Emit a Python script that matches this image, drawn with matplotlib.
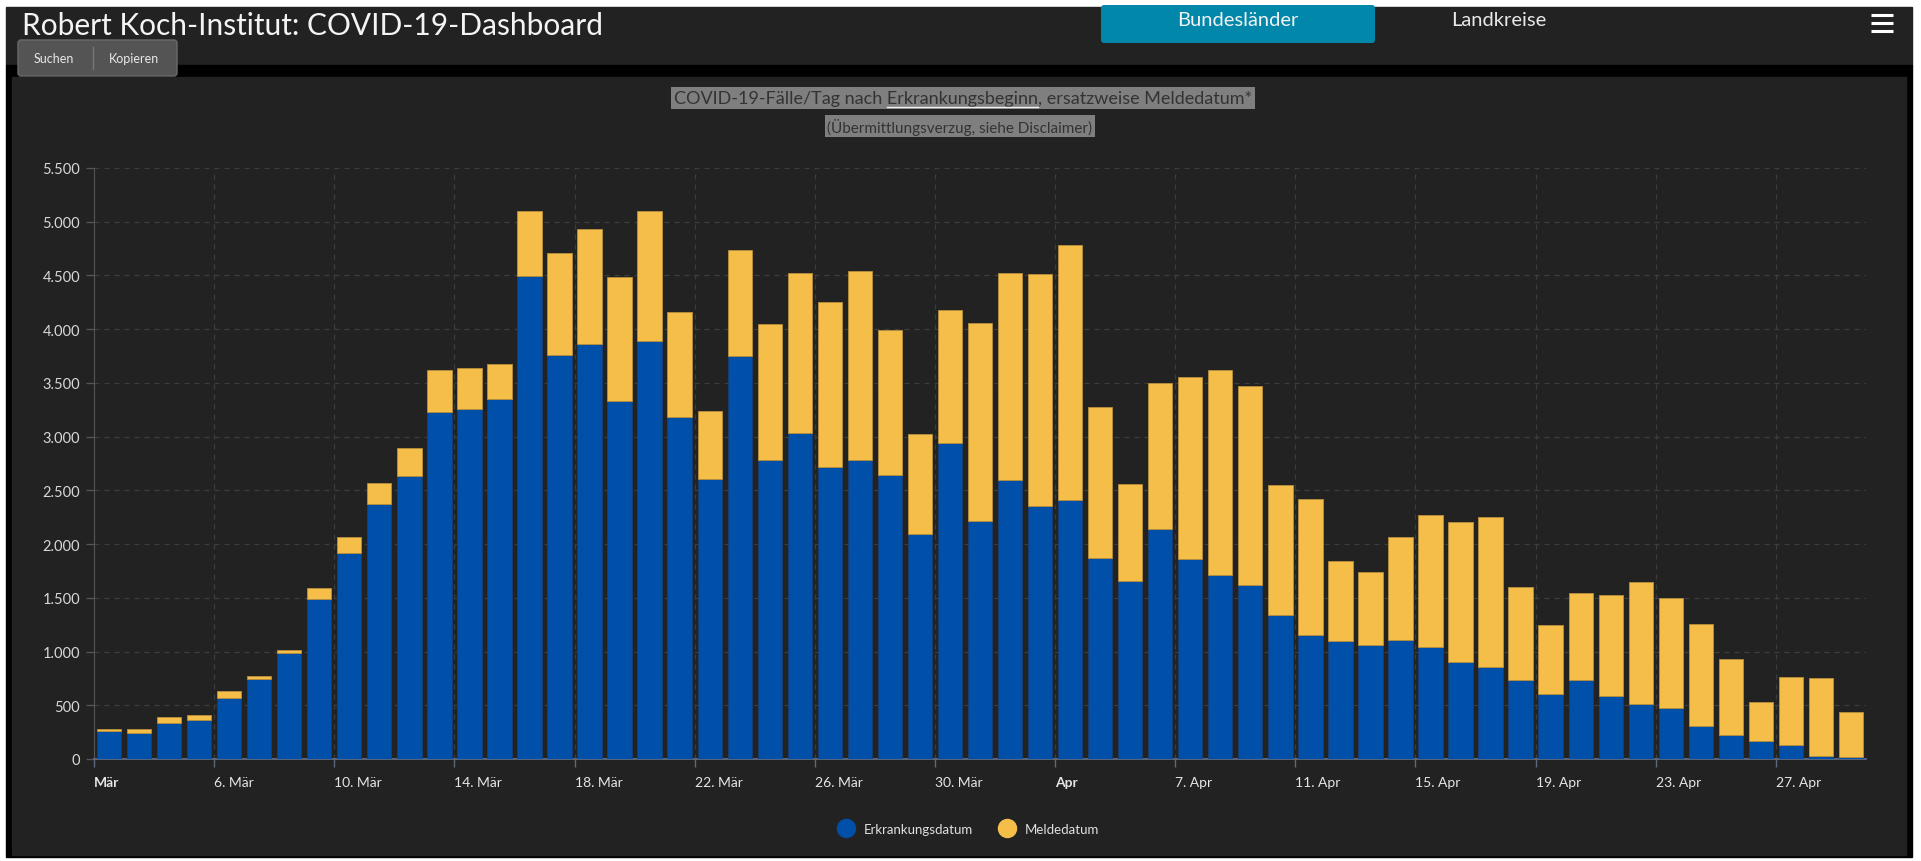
import matplotlib
matplotlib.use("Agg")
import matplotlib.pyplot as plt
import matplotlib.dates as mdates
from matplotlib.patches import Rectangle, FancyBboxPatch
from matplotlib.lines import Line2D
from matplotlib.ticker import FuncFormatter, MultipleLocator
import matplotlib.transforms as mtransforms
import pandas as pd

plt.rcParams['font.family'] = ['Lato', 'DejaVu Sans']

# Daily cases, 2 Mar - 29 Apr 2020
dates = pd.date_range('2020-03-02', '2020-04-29', freq='D')
erkrankung = [258, 244, 337, 361, 567, 743, 984, 1489, 1916, 2376,
              2631, 3229, 3253, 3346, 4498, 3759, 3862, 3332, 3889, 3185,
              2607, 3752, 2782, 3033, 2713, 2782, 2645, 2091, 2940, 2218,
              2596, 2356, 2411, 1874, 1656, 2136, 1860, 1709, 1616, 1338,
              1156, 1097, 1063, 1107, 1039, 901, 856, 739, 605, 739,
              588, 513, 475, 303, 224, 165, 134, 28, 14]
gesamt = [275, 275, 392, 406, 636, 770, 1015, 1589, 2063, 2569,
          2892, 3618, 3642, 3676, 5097, 4711, 4935, 4481, 5103, 4161,
          3240, 4739, 4044, 4519, 4254, 4540, 3989, 3023, 4175, 4058,
          4519, 4509, 4784, 3274, 2559, 3497, 3559, 3618, 3467, 2548,
          2421, 1843, 1740, 2063, 2270, 2204, 2249, 1603, 1245, 1544,
          1523, 1651, 1496, 1255, 935, 530, 763, 750, 437]
melde = [g - e for g, e in zip(gesamt, erkrankung)]

series_names = ['Erkrankungsdatum', 'Meldedatum']
blue = '#004fa8'
yellow = '#f5be48'
W, H = 1921, 862

fig = plt.figure(figsize=(W / 100, H / 100), dpi=100, facecolor='white')

# page furniture drawn in pixel coordinates
bg = fig.add_axes([0, 0, 1, 1], zorder=0)
bg.set_xlim(0, W)
bg.set_ylim(H, 0)
bg.axis('off')
bg.add_patch(Rectangle((6, 8), 1906, 58, color='#222222'))
bg.add_patch(Rectangle((6, 66), 1906, 792, color='#000000'))
bg.add_patch(Rectangle((12, 78), 1894, 778, color='#222222'))
bg.add_patch(FancyBboxPatch((18, 41), 159, 36, boxstyle='round,pad=0,rounding_size=3',
                            fc='#545454', ec='#6a6a6a', lw=1))
bg.plot([93, 93], [48, 70], color='#777777', lw=1)
bg.text(54, 59, 'Suchen', color='#e8e8e8', fontsize=9, ha='center', va='center')
bg.text(134, 59, 'Kopieren', color='#e8e8e8', fontsize=9, ha='center', va='center')
bg.add_patch(FancyBboxPatch((1101, 6), 274, 38, boxstyle='round,pad=0,rounding_size=3',
                            fc='#0087a9', ec='none'))
bg.text(1238, 20, 'Bundesländer', color='#f2f2f2', fontsize=14.5, ha='center', va='center')
bg.text(1499, 20, 'Landkreise', color='#e8e8e8', fontsize=14.5, ha='center', va='center')
for yy in (16, 24, 32):
    bg.plot([1871, 1893], [yy, yy], color='white', lw=2.2, solid_capstyle='butt')
bg.text(22, 26, 'Robert Koch-Institut: COVID-19-Dashboard', color='#f4f4f4',
        fontsize=21.5, ha='left', va='center')

t1 = bg.text(963, 99, 'COVID-19-Fälle/Tag nach Erkrankungsbeginn, ersatzweise Meldedatum*',
             color='#333333', fontsize=13, ha='center', va='center',
             bbox=dict(fc='#7f7f7f', ec='none', pad=2))
bg.text(960, 127, '(Übermittlungsverzug, siehe Disclaimer)', color='#333333',
        fontsize=11, ha='center', va='center', bbox=dict(fc='#7f7f7f', ec='none', pad=2))

# chart
ax = fig.add_axes([94 / W, 1 - 760 / H, (1866 - 94) / W, (760 - 169) / H], zorder=1)
ax.set_facecolor('none')
x = mdates.date2num(dates) + 0.5
ax.bar(x, erkrankung, width=0.81, color=blue, edgecolor='#163f78', linewidth=0.6,
       label=series_names[0], zorder=3)
ax.bar(x, melde, bottom=erkrankung, width=0.81, color=yellow, edgecolor='#b88f3c',
       linewidth=0.6, label=series_names[1], zorder=3)

ax.set_xlim(mdates.date2num(dates[0]), mdates.date2num(dates[-1]) + 1)
ax.set_ylim(0, 5500)
ax.yaxis.set_major_locator(MultipleLocator(500))
ax.yaxis.set_major_formatter(FuncFormatter(lambda v, p: f'{v:,.0f}'.replace(',', '.')))

monate = {3: 'Mär', 4: 'Apr'}
tick_dates = dates[::4]
ax.set_xticks(mdates.date2num(tick_dates))
labels = []
prev_month = None
for d in tick_dates:
    if d.month != prev_month:
        labels.append(monate[d.month])
    else:
        labels.append(f'{d.day}. {monate[d.month]}')
    prev_month = d.month
ax.set_xticklabels(labels)
offset = mtransforms.ScaledTranslation(3 / 100, 0, fig.dpi_scale_trans)
prev_month = None
for lab, d in zip(ax.get_xticklabels(), tick_dates):
    lab.set_ha('left')
    lab.set_transform(lab.get_transform() + offset)
    if d.month != prev_month:
        lab.set_fontweight('bold')
    prev_month = d.month

ax.tick_params(axis='x', colors='#5d6a7c', length=6, width=1, labelcolor='#e6e6e6',
               labelsize=10, pad=6)
ax.tick_params(axis='y', colors='#555555', length=6, width=1, labelcolor='#d8d8d8',
               labelsize=10.5, pad=4)
ax.grid(True, color='#3d3d3d', linestyle=(0, (4, 4)), linewidth=0.9, zorder=0)
ax.set_axisbelow(True)
for s in ('top', 'right'):
    ax.spines[s].set_visible(False)
ax.spines['left'].set_color('#555555')
ax.spines['bottom'].set_color('#5b6d87')
ax.spines['bottom'].set_linewidth(1.3)

handles = [Line2D([], [], marker='o', linestyle='none', markersize=13,
                  markerfacecolor=c, markeredgecolor=c) for c in (blue, yellow)]
fig.legend(handles, series_names, loc='center', bbox_to_anchor=(966 / W, 1 - 830 / H),
           ncol=2, frameon=False, labelcolor='#e0e0e0', fontsize=9.5,
           handletextpad=0.3, columnspacing=1.6)

# underline under "Erkrankungsbeginn"
fig.canvas.draw()
r = fig.canvas.get_renderer()
full = t1.get_window_extent(r)
tmp = bg.text(0, 0, 'COVID-19-Fälle/Tag nach ', fontsize=13)
pre_w = tmp.get_window_extent(r).width
tmp.set_text('Erkrankungsbeginn')
word_w = tmp.get_window_extent(r).width
tmp.remove()
x0 = full.x0 + pre_w
bg.plot([x0, x0 + word_w], [108, 108], color='#f0f0f0', lw=1, zorder=5)

fig.savefig('out.png', dpi=100, facecolor='white')
